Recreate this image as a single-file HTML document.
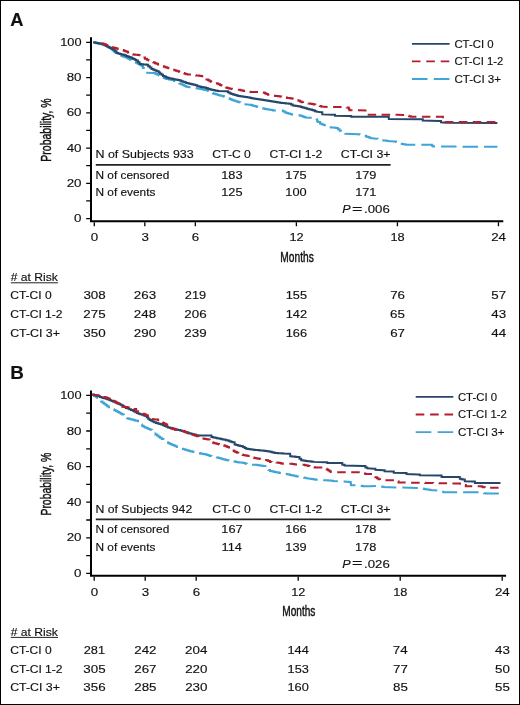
<!DOCTYPE html>
<html><head><meta charset="utf-8"><style>
html,body{margin:0;padding:0;background:#fff;}
svg{display:block;will-change:transform;}
text{font-family:"Liberation Sans",sans-serif;fill:#111;stroke:#111;stroke-width:0.15px;}
</style></head><body>
<svg width="520" height="705" viewBox="0 0 520 705">
<rect x="0.5" y="0.5" width="519" height="704" fill="#fff" stroke="#000" stroke-width="1"/>
<text x="10.34" y="25.60" font-size="18" textLength="13.24" lengthAdjust="spacingAndGlyphs" font-weight="bold">A</text>
<path d="M91 37.20V222.30M90 221.30H503.30" stroke="#000" stroke-width="2" fill="none"/>
<path d="M86.2 218.60H90M86.2 200.97H90M86.2 183.34H90M86.2 165.71H90M86.2 148.08H90M86.2 130.45H90M86.2 112.82H90M86.2 95.19H90M86.2 77.56H90M86.2 59.93H90M86.2 42.30H90M94.30 222.30V226.30M144.82 222.30V226.30M195.34 222.30V226.30M296.38 222.30V226.30M397.42 222.30V226.30M498.46 222.30V226.30" stroke="#000" stroke-width="1.3" fill="none"/>
<text x="74.10" y="222.20" font-size="11.5" textLength="7.42" lengthAdjust="spacingAndGlyphs">0</text>
<text x="66.69" y="186.94" font-size="11.5" textLength="14.84" lengthAdjust="spacingAndGlyphs">20</text>
<text x="66.69" y="151.68" font-size="11.5" textLength="14.84" lengthAdjust="spacingAndGlyphs">40</text>
<text x="66.69" y="116.42" font-size="11.5" textLength="14.84" lengthAdjust="spacingAndGlyphs">60</text>
<text x="66.69" y="81.16" font-size="11.5" textLength="14.84" lengthAdjust="spacingAndGlyphs">80</text>
<text x="60.21" y="45.90" font-size="11.5" textLength="21.30" lengthAdjust="spacingAndGlyphs">100</text>
<text x="90.89" y="241.40" font-size="11.5" textLength="7.42" lengthAdjust="spacingAndGlyphs">0</text>
<text x="141.45" y="241.40" font-size="11.5" textLength="7.42" lengthAdjust="spacingAndGlyphs">3</text>
<text x="191.88" y="241.40" font-size="11.5" textLength="7.42" lengthAdjust="spacingAndGlyphs">6</text>
<text x="289.42" y="241.40" font-size="11.5" textLength="14.20" lengthAdjust="spacingAndGlyphs">12</text>
<text x="390.41" y="241.40" font-size="11.5" textLength="14.20" lengthAdjust="spacingAndGlyphs">18</text>
<text x="491.20" y="241.40" font-size="11.5" textLength="14.84" lengthAdjust="spacingAndGlyphs">24</text>
<text x="280.36" y="261.90" font-size="15" textLength="33.41" lengthAdjust="spacingAndGlyphs" style="stroke-width:0.45px">Months</text>
<g transform="translate(50.75,160.80) rotate(-90)"><text x="-0.86" y="0" font-size="15" style="stroke-width:0.45px" textLength="63.33" lengthAdjust="spacingAndGlyphs">Probability, %</text></g>
<path d="M93.20 42.60H94.71V42.93H96.23V43.26H97.74V43.59H99.26V43.91H100.77V44.24H102.29V44.57H103.80V44.90H105.25V45.62H106.70V46.35H108.15V47.07H109.60V47.80H111.13V49.13H112.67V50.47H114.20V51.80H115.65V52.67H117.10V53.55H118.55V54.42H120.00V55.30H121.45V55.88H122.90V56.45H124.35V57.02H125.80V57.60H127.22V58.33H128.65V59.05H130.07V59.77H131.50V60.50H132.95V61.23H134.40V61.95H135.85V62.67H137.30V63.40H138.87V64.37H140.43V65.33H142.00V66.30H143.00V68.00H143.80V69.53H144.60V71.07H145.40V72.60L153.80 73.00H155.55V73.90H157.30V74.80H158.92V75.60H160.54V76.40H162.16V77.20H163.78V78.00H165.40V78.80H167.12V79.10H168.85V79.40H170.58V79.70H172.30V80.00H174.03V80.88H175.75V81.75H177.47V82.62H179.20V83.50H180.95V84.30H182.70V85.10H184.45V85.90H186.20V86.70H187.80V86.96H189.40V87.22H191.00V87.48H192.60V87.74H194.20V88.00L197.70 88.50H199.17V88.78H200.63V89.07H202.10V89.35H203.57V89.63H205.03V89.92H206.50V90.20H208.07V91.10H209.63V92.00H211.20V92.90H212.90V93.43H214.60V93.95H216.30V94.47H218.00V95.00H219.57V95.40H221.13V95.80H222.70V96.20H224.15V96.78H225.60V97.35H227.05V97.92H228.50V98.50H229.93V99.08H231.35V99.65H232.77V100.22H234.20V100.80H235.73V101.27H237.27V101.73H238.80V102.20H240.37V102.87H241.93V103.53H243.50V104.20L250.00 104.80H251.45V105.22H252.90V105.65H254.35V106.08H255.80V106.50H257.23V106.95H258.65V107.40H260.07V107.85H261.50V108.30H263.16V108.60H264.81V108.90H266.47V109.20H268.13V109.50H269.79V109.80H271.44V110.10H273.10V110.40L281.20 110.40H282.90V111.35H284.60V112.30H286.33V112.88H288.05V113.45H289.77V114.02H291.50V114.60H293.25V114.75H295.00V114.90H296.75V115.05H298.50V115.20H300.23V115.78H301.95V116.35H303.67V116.92H305.40V117.50L310.80 117.80H312.23V118.15H313.65V118.50H315.07V118.85H316.50V119.20H317.10V120.65H317.70V122.10H320.00V123.60H321.53V124.13H323.07V124.67H324.60V125.20H326.13V125.90H327.67V126.60H329.20V127.30H330.95V127.45H332.70V127.60H334.45V127.75H336.20V127.90H337.90V129.35H339.60V130.80H341.05V131.53H342.50V132.25H343.95V132.97H345.40V133.70L358.00 134.20H359.65V134.60H361.30V135.00H362.95V135.40H364.60V135.80H366.05V136.38H367.50V136.95H368.95V137.53H370.40V138.10L376.20 138.70H377.62V139.07H379.05V139.45H380.47V139.82H381.90V140.20H383.35V140.40H384.80V140.60H386.25V140.80H387.70V141.00L394.60 141.50H396.05V142.07H397.50V142.65H398.95V143.23H400.40V143.80H401.85V144.05H403.30V144.30H404.75V144.55H406.20V144.80L430.60 144.80H431.90V145.65H433.20V146.50L497.40 146.80" stroke="#3ea5d6" stroke-width="2" fill="none" stroke-linejoin="miter" stroke-dasharray="15.5 6" stroke-dashoffset="3"/>
<path d="M93.20 42.30H94.86V42.60H96.52V42.90H98.18V43.20H99.84V43.50H101.50V43.80H102.95V44.52H104.40V45.25H105.85V45.98H107.30V46.70H108.72V47.40H110.15V48.10H111.58V48.80H113.00V49.50H114.75V51.25H116.50V53.00H118.12V53.46H119.74V53.92H121.36V54.38H122.98V54.84H124.60V55.30H126.05V55.88H127.50V56.45H128.95V57.02H130.40V57.60H131.85V58.33H133.30V59.05H134.75V59.77H136.20V60.50H137.90V62.25H139.60V64.00H141.32V64.20H143.05V64.40H144.78V64.60H146.50V64.80H148.17V66.20H149.83V67.60H151.50V69.00H152.95V69.58H154.40V70.15H155.85V70.72H157.30V71.30H158.73V72.47H160.15V73.65H161.57V74.83H163.00V76.00H164.45V76.58H165.90V77.15H167.35V77.72H168.80V78.30H170.33V78.58H171.87V78.87H173.40V79.15H174.93V79.43H176.47V79.72H178.00V80.00H179.64V80.58H181.28V81.16H182.92V81.74H184.56V82.32H186.20V82.90H187.73V83.28H189.27V83.67H190.80V84.05H192.33V84.43H193.87V84.82H195.40V85.20H197.30V86.30H199.03V86.60H200.75V86.90H202.47V87.20H204.20V87.50H205.95V88.08H207.70V88.65H209.45V89.22H211.20V89.80H212.90V90.10H214.60V90.40H216.30V90.70H218.00V91.00L226.20 91.30H227.90V92.30H229.60V93.30H231.32V93.88H233.05V94.45H234.78V95.02H236.50V95.60H238.25V95.88H240.00V96.15H241.75V96.42H243.50V96.70H245.22V97.00H246.95V97.30H248.68V97.60H250.40V97.90H251.80V98.17H253.20V98.43H254.60V98.70H256.32V98.97H258.05V99.25H259.77V99.53H261.50V99.80H263.05V100.05H264.60V100.30H266.15V100.55H267.70V100.80H269.25V101.05H270.80V101.30H272.33V101.55H273.87V101.80H275.40V102.05H276.93V102.30H278.47V102.55H280.00V102.80H281.53V102.95H283.07V103.10H284.60V103.25H286.13V103.40H287.67V103.55H289.20V103.70H290.95V104.55H292.70V105.40H294.43V105.68H296.15V105.95H297.88V106.22H299.60V106.50H301.05V106.95H302.50V107.40H303.95V107.85H305.40V108.30H307.02V108.72H308.65V109.15H310.27V109.58H311.90V110.00H313.43V110.57H314.97V111.13H316.50V111.70L321.20 112.30H322.30V114.40L332.70 114.80H335.00V115.80L348.80 116.00H351.20V116.70L387.70 116.70H388.80V119.00L421.90 119.20H422.80V120.60L439.20 120.90H441.00V122.30L446.10 122.80L497.40 122.90" stroke="#27476a" stroke-width="2" fill="none" stroke-linejoin="miter"/>
<path d="M96.70 42.85H98.20V43.09H99.70V43.33H101.20V43.56H102.70V43.80H104.23V44.37H105.77V44.93H107.30V45.50H108.83V46.07H110.37V46.63H111.90V47.20H113.35V47.65H114.80V48.10H116.25V48.55H117.70V49.00H119.23V49.37H120.77V49.73H122.30V50.10H123.72V50.67H125.15V51.25H126.58V51.83H128.00V52.40H129.75V53.30H131.50V54.20H133.12V54.42H134.74V54.64H136.36V54.86H137.98V55.08H139.60V55.30H141.30V56.45H143.00V57.60H144.95V58.70H146.90V59.80H148.52V60.50H150.14V61.20H151.76V61.90H153.38V62.60H155.00V63.30H156.49V63.87H157.97V64.44H159.46V65.01H160.94V65.59H162.43V66.16H163.91V66.73H165.40V67.30H166.89V67.80H168.37V68.30H169.86V68.80H171.34V69.30H172.83V69.80H174.31V70.30H175.80V70.80H177.53V71.37H179.27V71.93H181.00V72.50H182.73V73.07H184.47V73.63H186.20V74.20H187.84V74.40H189.49V74.60H191.13V74.80H192.77V75.00H194.41V75.20H196.06V75.40H197.70V75.60H199.10V75.83H200.50V76.07H201.90V76.30H203.43V77.33H204.97V78.37H206.50V79.40H208.07V80.30H209.63V81.20H211.20V82.10H212.62V82.45H214.05V82.80H215.47V83.15H216.90V83.50H218.43V84.27H219.97V85.03H221.50V85.80H222.95V86.38H224.40V86.95H225.85V87.52H227.30V88.10H228.83V88.47H230.37V88.83H231.90V89.20L238.80 89.80H240.37V90.20H241.93V90.60H243.50V91.00H245.22V91.28H246.95V91.55H248.68V91.82H250.40V92.10L258.10 92.10H259.53V92.25H260.95V92.40H262.38V92.55H263.80V92.70H265.17V93.40H266.53V94.10H267.90V94.80H269.40V95.02H270.90V95.24H272.40V95.46H273.90V95.68H275.40V95.90H276.85V96.10H278.30V96.30H279.75V96.50H281.20V96.70H282.62V97.00H284.05V97.30H285.47V97.60H286.90V97.90H288.35V98.10H289.80V98.30H291.25V98.50H292.70V98.70H294.15V99.22H295.60V99.75H297.05V100.28H298.50V100.80H300.03V101.57H301.57V102.33H303.10V103.10H304.88V103.25H306.65V103.40H308.43V103.55H310.20V103.70H311.93V104.07H313.67V104.43H315.40V104.80H316.85V105.22H318.30V105.65H319.75V106.08H321.20V106.50L328.10 107.10L341.90 107.10H343.50V107.25H345.10V107.40H346.70V107.55H348.30V107.70H348.85V108.95H349.40V110.20L367.50 110.40H367.90V111.87H368.30V113.33H368.70V114.80L396.90 114.80L403.80 115.00H405.55V115.42H407.30V115.85H409.05V116.28H410.80V116.70L442.90 116.80L443.10 122.10L497.40 122.10" stroke="#b41f30" stroke-width="2" fill="none" stroke-linejoin="miter" stroke-dasharray="8.5 5.5" stroke-dashoffset="8.5"/>
<path d="M411.9 43.80H449.6" stroke="#27476a" stroke-width="1.8"/>
<text x="454.42" y="47.65" font-size="11.5" textLength="39.12" lengthAdjust="spacingAndGlyphs">CT-CI 0</text>
<path d="M411.9 61.40H449.6" stroke="#b41f30" stroke-width="1.8" stroke-dasharray="8.6 5.8"/>
<text x="454.42" y="65.25" font-size="11.5" textLength="48.94" lengthAdjust="spacingAndGlyphs">CT-CI 1-2</text>
<path d="M411.9 79.00H449.6" stroke="#3ea5d6" stroke-width="1.8" stroke-dasharray="15.6 6.3"/>
<text x="454.41" y="82.85" font-size="11.5" textLength="46.66" lengthAdjust="spacingAndGlyphs">CT-CI 3+</text>
<text x="95.48" y="158.20" font-size="11.5" textLength="98.17" lengthAdjust="spacingAndGlyphs">N of Subjects 933</text>
<text x="212.38" y="158.20" font-size="11.5" textLength="38.49" lengthAdjust="spacingAndGlyphs">CT-C 0</text>
<text x="269.58" y="158.20" font-size="11.5" textLength="52.63" lengthAdjust="spacingAndGlyphs">CT-CI 1-2</text>
<text x="340.77" y="158.20" font-size="11.5" textLength="49.73" lengthAdjust="spacingAndGlyphs">CT-CI 3+</text>
<path d="M95.8 164.85H390.6" stroke="#222" stroke-width="1.8"/>
<text x="95.53" y="178.60" font-size="11.5" textLength="73.74" lengthAdjust="spacingAndGlyphs">N of censored</text>
<text x="95.53" y="196.20" font-size="11.5" textLength="59.91" lengthAdjust="spacingAndGlyphs">N of events</text>
<text x="221.25" y="178.60" font-size="11.5" textLength="21.30" lengthAdjust="spacingAndGlyphs">183</text>
<text x="221.24" y="196.20" font-size="11.5" textLength="21.30" lengthAdjust="spacingAndGlyphs">125</text>
<text x="285.34" y="178.60" font-size="11.5" textLength="21.30" lengthAdjust="spacingAndGlyphs">175</text>
<text x="285.32" y="196.20" font-size="11.5" textLength="21.30" lengthAdjust="spacingAndGlyphs">100</text>
<text x="355.17" y="178.60" font-size="11.5" textLength="21.30" lengthAdjust="spacingAndGlyphs">179</text>
<text x="355.18" y="196.20" font-size="11.5" textLength="21.30" lengthAdjust="spacingAndGlyphs">171</text>
<text x="342.21" y="213.30" font-size="11.5" textLength="8.36" lengthAdjust="spacingAndGlyphs" font-style="italic">P</text>
<text x="352.02" y="212.70" font-size="11.5" textLength="10.45" lengthAdjust="spacingAndGlyphs">=</text>
<text x="364.10" y="213.30" font-size="11.5" textLength="25.69" lengthAdjust="spacingAndGlyphs">.006</text>
<text x="10.75" y="281.20" font-size="11.5" textLength="47.14" lengthAdjust="spacingAndGlyphs"># at Risk</text>
<path d="M10.8 282.80H58" stroke="#222" stroke-width="1"/>
<text x="10.19" y="299.40" font-size="11.5" textLength="41.48" lengthAdjust="spacingAndGlyphs">CT-CI 0</text>
<text x="83.41" y="299.40" font-size="11.5" textLength="22.26" lengthAdjust="spacingAndGlyphs">308</text>
<text x="133.85" y="299.40" font-size="11.5" textLength="22.26" lengthAdjust="spacingAndGlyphs">263</text>
<text x="184.87" y="299.40" font-size="11.5" textLength="21.30" lengthAdjust="spacingAndGlyphs">219</text>
<text x="285.72" y="299.40" font-size="11.5" textLength="21.30" lengthAdjust="spacingAndGlyphs">155</text>
<text x="390.16" y="299.40" font-size="11.5" textLength="14.84" lengthAdjust="spacingAndGlyphs">76</text>
<text x="491.31" y="299.40" font-size="11.5" textLength="14.84" lengthAdjust="spacingAndGlyphs">57</text>
<text x="10.18" y="318.00" font-size="11.5" textLength="52.42" lengthAdjust="spacingAndGlyphs">CT-CI 1-2</text>
<text x="83.32" y="318.00" font-size="11.5" textLength="22.26" lengthAdjust="spacingAndGlyphs">275</text>
<text x="133.85" y="318.00" font-size="11.5" textLength="22.26" lengthAdjust="spacingAndGlyphs">248</text>
<text x="184.37" y="318.00" font-size="11.5" textLength="22.26" lengthAdjust="spacingAndGlyphs">206</text>
<text x="285.77" y="318.00" font-size="11.5" textLength="21.30" lengthAdjust="spacingAndGlyphs">142</text>
<text x="390.14" y="318.00" font-size="11.5" textLength="14.84" lengthAdjust="spacingAndGlyphs">65</text>
<text x="491.38" y="318.00" font-size="11.5" textLength="14.84" lengthAdjust="spacingAndGlyphs">43</text>
<text x="10.17" y="336.60" font-size="11.5" textLength="49.83" lengthAdjust="spacingAndGlyphs">CT-CI 3+</text>
<text x="83.38" y="336.60" font-size="11.5" textLength="22.26" lengthAdjust="spacingAndGlyphs">350</text>
<text x="133.82" y="336.60" font-size="11.5" textLength="22.26" lengthAdjust="spacingAndGlyphs">290</text>
<text x="184.39" y="336.60" font-size="11.5" textLength="22.26" lengthAdjust="spacingAndGlyphs">239</text>
<text x="285.73" y="336.60" font-size="11.5" textLength="21.30" lengthAdjust="spacingAndGlyphs">166</text>
<text x="390.20" y="336.60" font-size="11.5" textLength="14.84" lengthAdjust="spacingAndGlyphs">67</text>
<text x="491.28" y="336.60" font-size="11.5" textLength="14.84" lengthAdjust="spacingAndGlyphs">44</text>
<text x="10.24" y="379.30" font-size="18" textLength="13.61" lengthAdjust="spacingAndGlyphs" font-weight="bold">B</text>
<path d="M91 390.60V576.80M90 575.80H506.10" stroke="#000" stroke-width="2" fill="none"/>
<path d="M86.2 573.40H90M86.2 555.60H90M86.2 537.80H90M86.2 520.00H90M86.2 502.20H90M86.2 484.40H90M86.2 466.60H90M86.2 448.80H90M86.2 431.00H90M86.2 413.20H90M86.2 395.40H90M94.20 576.80V580.80M145.20 576.80V580.80M196.20 576.80V580.80M298.20 576.80V580.80M400.20 576.80V580.80M502.20 576.80V580.80" stroke="#000" stroke-width="1.3" fill="none"/>
<text x="74.10" y="577.00" font-size="11.5" textLength="7.42" lengthAdjust="spacingAndGlyphs">0</text>
<text x="66.69" y="541.40" font-size="11.5" textLength="14.84" lengthAdjust="spacingAndGlyphs">20</text>
<text x="66.69" y="505.80" font-size="11.5" textLength="14.84" lengthAdjust="spacingAndGlyphs">40</text>
<text x="66.69" y="470.20" font-size="11.5" textLength="14.84" lengthAdjust="spacingAndGlyphs">60</text>
<text x="66.69" y="434.60" font-size="11.5" textLength="14.84" lengthAdjust="spacingAndGlyphs">80</text>
<text x="60.21" y="399.00" font-size="11.5" textLength="21.30" lengthAdjust="spacingAndGlyphs">100</text>
<text x="90.79" y="596.00" font-size="11.5" textLength="7.42" lengthAdjust="spacingAndGlyphs">0</text>
<text x="141.83" y="596.00" font-size="11.5" textLength="7.42" lengthAdjust="spacingAndGlyphs">3</text>
<text x="192.74" y="596.00" font-size="11.5" textLength="7.42" lengthAdjust="spacingAndGlyphs">6</text>
<text x="291.24" y="596.00" font-size="11.5" textLength="14.20" lengthAdjust="spacingAndGlyphs">12</text>
<text x="393.19" y="596.00" font-size="11.5" textLength="14.20" lengthAdjust="spacingAndGlyphs">18</text>
<text x="494.94" y="596.00" font-size="11.5" textLength="14.84" lengthAdjust="spacingAndGlyphs">24</text>
<text x="282.27" y="616.30" font-size="15" textLength="33.09" lengthAdjust="spacingAndGlyphs" style="stroke-width:0.45px">Months</text>
<g transform="translate(50.60,514.70) rotate(-90)"><text x="-0.85" y="0" font-size="15" style="stroke-width:0.45px" textLength="62.93" lengthAdjust="spacingAndGlyphs">Probability, %</text></g>
<path d="M92.30 395.00H93.90V395.93H95.50V396.85H97.10V397.77H98.70V398.70H99.85V400.10H101.00V401.50H102.53V402.67H104.07V403.83H105.60V405.00H107.13V406.17H108.67V407.33H110.20V408.50H112.20V409.35H114.20V410.20H115.83V411.07H117.47V411.93H119.10V412.80H120.73V413.67H122.37V414.53H124.00V415.40H125.50V416.85H127.00V418.30H128.57V418.73H130.15V419.15H131.72V419.57H133.30V420.00H134.88V420.43H136.45V420.85H138.03V421.27H139.60V421.70H140.40V423.07H141.20V424.43H142.00V425.80H143.50V426.65H145.00V427.50H146.72V428.23H148.45V428.95H150.18V429.67H151.90V430.40H153.65V432.40H155.40V434.40H156.93V435.53H158.47V436.67H160.00V437.80H161.75V439.10H163.50V440.40H165.03V441.27H166.57V442.13H168.10V443.00H169.53V443.65H170.95V444.30H172.38V444.95H173.80V445.60H175.35V446.28H176.90V446.95H178.45V447.62H180.00V448.30H181.67V448.78H183.33V449.27H185.00V449.75H186.67V450.23H188.33V450.72H190.00V451.20H191.67V451.58H193.33V451.97H195.00V452.35H196.67V452.73H198.33V453.12H200.00V453.50H201.45V453.73H202.90V453.95H204.35V454.17H205.80V454.40H207.23V454.97H208.65V455.55H210.07V456.12H211.50V456.70H213.25V457.00H215.00V457.30H216.75V457.60H218.50V457.90H219.93V458.32H221.35V458.75H222.77V459.18H224.20V459.60H225.65V459.90H227.10V460.20H228.55V460.50H230.00V460.80H231.45V461.07H232.90V461.35H234.35V461.62H235.80V461.90H237.40V462.14H239.00V462.38H240.60V462.62H242.20V462.86H243.80V463.10H245.37V463.67H246.93V464.23H248.50V464.80L255.00 464.80H256.62V465.04H258.24V465.28H259.86V465.52H261.48V465.76H263.10V466.00H265.40V468.30H266.93V469.17H268.47V470.03H270.00V470.90H271.45V471.25H272.90V471.60H274.35V471.95H275.80V472.30H277.52V472.60H279.25V472.90H280.98V473.20H282.70V473.50H284.15V473.77H285.60V474.05H287.05V474.33H288.50V474.60H289.93V474.90H291.35V475.20H292.77V475.50H294.20V475.80H295.73V476.17H297.27V476.53H298.80V476.90H300.55V477.20H302.30V477.50H304.05V477.80H305.80V478.10L310.00 478.70H311.53V478.95H313.07V479.20H314.60V479.45H316.13V479.70H317.67V479.95H319.20V480.20L326.20 480.20H327.93V480.40H329.65V480.60H331.38V480.80H333.10V481.00L340.00 481.30H341.73V481.43H343.47V481.57H345.20V481.70H346.93V481.83H348.67V481.97H350.40V482.10H350.70V483.65H351.00V485.20L357.30 485.20H358.75V485.45H360.20V485.70H361.65V485.95H363.10V486.20L370.00 486.20L377.70 486.00H379.15V486.27H380.60V486.55H382.05V486.83H383.50V487.10L398.50 487.50L419.20 488.00H420.70V488.30H422.20V488.60H423.70V488.90H425.20V489.20H426.93V489.50H428.67V489.80H430.40V490.10L439.00 490.60H440.47V491.13H441.93V491.67H443.40V492.20L480.60 492.30H482.30V492.73H484.00V493.17H485.70V493.60L500.50 493.60" stroke="#3ea5d6" stroke-width="2" fill="none" stroke-linejoin="miter" stroke-dasharray="15.5 6" stroke-dashoffset="7"/>
<path d="M92.30 394.60H93.83V395.00H95.37V395.40H96.90V395.80H98.43V396.37H99.97V396.93H101.50V397.50H102.95V397.93H104.40V398.35H105.85V398.77H107.30V399.20H108.72V399.77H110.15V400.35H111.58V400.93H113.00V401.50H114.75V402.23H116.50V402.95H118.25V403.67H120.00V404.40H121.45V405.27H122.90V406.15H124.35V407.02H125.80V407.90H127.52V408.62H129.25V409.35H130.97V410.07H132.70V410.80H134.15V411.52H135.60V412.25H137.05V412.98H138.50V413.70H140.22V414.27H141.95V414.85H143.68V415.43H145.40V416.00H146.80V417.33H148.20V418.67H149.60V420.00H151.13V420.77H152.67V421.53H154.20V422.30H155.95V422.88H157.70V423.45H159.45V424.03H161.20V424.60H162.92V425.33H164.65V426.05H166.38V426.77H168.10V427.50H169.82V427.93H171.55V428.35H173.28V428.77H175.00V429.20H176.72V429.65H178.45V430.10H180.18V430.55H181.90V431.00H183.62V431.57H185.35V432.15H187.08V432.73H188.80V433.30H190.55V433.73H192.30V434.15H194.05V434.57H195.80V435.00L200.00 435.40L209.20 435.40H211.50V437.10H213.25V437.48H215.00V437.85H216.75V438.23H218.50V438.60H220.03V438.87H221.57V439.13H223.10V439.40H224.63V439.80H226.17V440.20H227.70V440.60H229.23V441.17H230.77V441.73H232.30V442.30H234.60V444.60H236.32V445.03H238.05V445.45H239.78V445.88H241.50V446.30H243.07V447.10H244.63V447.90H246.20V448.70H247.92V448.98H249.65V449.25H251.38V449.52H253.10V449.80H254.86V449.96H256.62V450.12H258.38V450.28H260.14V450.44H261.90V450.60H263.62V450.83H265.35V451.05H267.07V451.27H268.80V451.50H270.25V451.85H271.70V452.20H273.15V452.55H274.60V452.90H276.13V453.02H277.67V453.13H279.20V453.25H280.73V453.37H282.27V453.48H283.80V453.60L288.50 453.80H290.20V456.20H291.70V456.38H293.20V456.56H294.70V456.74H296.20V456.92H297.70V457.10H299.45V458.65H301.20V460.20H302.90V460.50H304.60V460.80H306.08V460.98H307.57V461.17H309.05V461.35H310.53V461.53H312.02V461.72H313.50V461.90L325.00 462.20H327.30V463.10L340.60 463.10H342.30V464.80H344.60V465.60L363.10 466.00H365.40V467.50H367.30V468.30L374.20 468.70H375.40V469.80L383.50 470.20H384.60V471.30L392.70 471.50H393.80V472.70L405.40 472.90H406.50V474.10L418.10 474.40H419.80V475.30L440.80 475.40H441.60V477.10L458.10 477.10H459.80V478.80H461.35V479.20H462.90V479.60H464.80V481.30L473.50 481.50H474.90V483.00L500.50 483.00" stroke="#27476a" stroke-width="2" fill="none" stroke-linejoin="miter"/>
<path d="M92.30 394.60L96.90 395.20H98.62V395.62H100.35V396.05H102.08V396.47H103.80V396.90H105.37V397.50H106.93V398.10H108.50V398.70H109.92V399.40H111.35V400.10H112.78V400.80H114.20V401.50H115.82V402.54H117.44V403.58H119.06V404.62H120.68V405.66H122.30V406.70H123.83V406.90H125.37V407.10H126.90V407.30H128.62V407.73H130.35V408.15H132.08V408.57H133.80V409.00H136.20V411.30H137.90V411.90H139.60V412.50H141.30V413.10H143.00V413.70H144.57V414.47H146.13V415.23H147.70V416.00H149.25V417.40H150.80V418.80L156.50 419.40H158.07V420.37H159.63V421.33H161.20V422.30H162.73V423.07H164.27V423.83H165.80V424.60H167.23V425.62H168.65V426.65H170.07V427.68H171.50V428.70H173.25V429.25H175.00V429.80H176.62V430.10H178.24V430.40H179.86V430.70H181.48V431.00H183.10V431.30H184.80V431.90H186.50V432.50H188.07V433.13H189.63V433.77H191.20V434.40H192.62V434.85H194.05V435.30H195.47V435.75H196.90V436.20H198.70V437.00H200.50V437.80H202.30V438.60H203.75V438.80H205.20V439.00H206.65V439.20H208.10V439.40H209.80V440.85H211.50V442.30H212.95V442.73H214.40V443.15H215.85V443.57H217.30V444.00H219.03V444.45H220.75V444.90H222.47V445.35H224.20V445.80H225.73V446.37H227.27V446.93H228.80V447.50H230.55V448.95H232.30V450.40H233.83V451.17H235.37V451.93H236.90V452.70H238.35V453.27H239.80V453.85H241.25V454.43H242.70V455.00H244.15V455.23H245.60V455.45H247.05V455.67H248.50V455.90H249.93V456.40H251.35V456.90H252.77V457.40H254.20V457.90H255.63V458.17H257.07V458.43H258.50V458.70H260.10V459.00H261.70V459.30H263.30V459.60H264.90V459.90H266.50V460.20H268.25V461.05H270.00V461.90H271.62V462.08H273.24V462.26H274.86V462.44H276.48V462.62H278.10V462.80H279.63V463.10H281.17V463.40H282.70V463.70L290.80 463.70H292.33V463.97H293.87V464.23H295.40V464.50L303.50 464.80H305.03V465.20H306.57V465.60H308.10V466.00H309.73V466.38H311.35V466.75H312.98V467.12H314.60V467.50L321.50 467.50H323.23V468.13H324.97V468.77H326.70V469.40H328.07V470.30H329.43V471.20H330.80V472.10L359.60 472.30H361.05V472.73H362.50V473.15H363.95V473.57H365.40V474.00L371.90 474.10H373.65V475.70H375.40V477.30H376.93V478.27H378.47V479.23H380.00V480.20L395.00 480.20H396.75V481.35H398.50V482.50L420.40 482.80H421.99V482.83H423.58V482.87H425.17V482.90H426.76V482.93H428.34V482.97H429.93V483.00H431.52V483.03H433.11V483.07H434.70V483.10H436.29V483.13H437.88V483.17H439.47V483.20H441.06V483.23H442.64V483.27H444.23V483.30H445.82V483.33H447.41V483.37H449.00V483.40H450.59V483.43H452.18V483.47H453.77V483.50H455.36V483.53H456.94V483.57H458.53V483.60H460.12V483.63H461.71V483.67H463.30V483.70H464.55V484.95H465.80V486.20L480.20 486.20H481.80V486.73H483.40V487.27H485.00V487.80L500.50 487.80" stroke="#b41f30" stroke-width="2" fill="none" stroke-linejoin="miter" stroke-dasharray="8.5 5.5" stroke-dashoffset="1"/>
<path d="M415.7 396.90H453.3" stroke="#27476a" stroke-width="1.8"/>
<text x="457.92" y="400.75" font-size="11.5" textLength="39.12" lengthAdjust="spacingAndGlyphs">CT-CI 0</text>
<path d="M415.7 414.50H453.3" stroke="#b41f30" stroke-width="1.8" stroke-dasharray="8.6 5.8"/>
<text x="457.92" y="418.35" font-size="11.5" textLength="48.94" lengthAdjust="spacingAndGlyphs">CT-CI 1-2</text>
<path d="M415.7 432.10H453.3" stroke="#3ea5d6" stroke-width="1.8" stroke-dasharray="15.6 6.3"/>
<text x="457.91" y="435.95" font-size="11.5" textLength="46.66" lengthAdjust="spacingAndGlyphs">CT-CI 3+</text>
<text x="95.50" y="512.80" font-size="11.5" textLength="96.72" lengthAdjust="spacingAndGlyphs">N of Subjects 942</text>
<text x="212.38" y="512.80" font-size="11.5" textLength="38.49" lengthAdjust="spacingAndGlyphs">CT-C 0</text>
<text x="269.58" y="512.80" font-size="11.5" textLength="52.63" lengthAdjust="spacingAndGlyphs">CT-CI 1-2</text>
<text x="340.77" y="512.80" font-size="11.5" textLength="49.73" lengthAdjust="spacingAndGlyphs">CT-CI 3+</text>
<path d="M95.8 519.45H390.6" stroke="#222" stroke-width="1.8"/>
<text x="95.53" y="533.20" font-size="11.5" textLength="73.74" lengthAdjust="spacingAndGlyphs">N of censored</text>
<text x="95.53" y="550.80" font-size="11.5" textLength="59.91" lengthAdjust="spacingAndGlyphs">N of events</text>
<text x="221.29" y="533.20" font-size="11.5" textLength="21.30" lengthAdjust="spacingAndGlyphs">167</text>
<text x="221.63" y="550.80" font-size="11.5" textLength="20.35" lengthAdjust="spacingAndGlyphs">114</text>
<text x="285.35" y="533.20" font-size="11.5" textLength="21.30" lengthAdjust="spacingAndGlyphs">166</text>
<text x="285.37" y="550.80" font-size="11.5" textLength="21.30" lengthAdjust="spacingAndGlyphs">139</text>
<text x="355.14" y="533.20" font-size="11.5" textLength="21.30" lengthAdjust="spacingAndGlyphs">178</text>
<text x="355.14" y="550.80" font-size="11.5" textLength="21.30" lengthAdjust="spacingAndGlyphs">178</text>
<text x="342.21" y="567.90" font-size="11.5" textLength="8.36" lengthAdjust="spacingAndGlyphs" font-style="italic">P</text>
<text x="352.02" y="567.30" font-size="11.5" textLength="10.45" lengthAdjust="spacingAndGlyphs">=</text>
<text x="364.10" y="567.90" font-size="11.5" textLength="25.69" lengthAdjust="spacingAndGlyphs">.026</text>
<text x="10.75" y="635.80" font-size="11.5" textLength="47.14" lengthAdjust="spacingAndGlyphs"># at Risk</text>
<path d="M10.8 637.40H58" stroke="#222" stroke-width="1"/>
<text x="10.19" y="654.00" font-size="11.5" textLength="41.48" lengthAdjust="spacingAndGlyphs">CT-CI 0</text>
<text x="83.75" y="654.00" font-size="11.5" textLength="21.30" lengthAdjust="spacingAndGlyphs">281</text>
<text x="134.27" y="654.00" font-size="11.5" textLength="22.26" lengthAdjust="spacingAndGlyphs">242</text>
<text x="185.13" y="654.00" font-size="11.5" textLength="22.26" lengthAdjust="spacingAndGlyphs">204</text>
<text x="287.45" y="654.00" font-size="11.5" textLength="21.30" lengthAdjust="spacingAndGlyphs">144</text>
<text x="392.84" y="654.00" font-size="11.5" textLength="14.84" lengthAdjust="spacingAndGlyphs">74</text>
<text x="495.12" y="654.00" font-size="11.5" textLength="14.84" lengthAdjust="spacingAndGlyphs">43</text>
<text x="10.18" y="672.60" font-size="11.5" textLength="52.42" lengthAdjust="spacingAndGlyphs">CT-CI 1-2</text>
<text x="83.30" y="672.60" font-size="11.5" textLength="22.26" lengthAdjust="spacingAndGlyphs">305</text>
<text x="134.27" y="672.60" font-size="11.5" textLength="22.26" lengthAdjust="spacingAndGlyphs">267</text>
<text x="185.20" y="672.60" font-size="11.5" textLength="22.26" lengthAdjust="spacingAndGlyphs">220</text>
<text x="287.55" y="672.60" font-size="11.5" textLength="21.30" lengthAdjust="spacingAndGlyphs">153</text>
<text x="392.98" y="672.60" font-size="11.5" textLength="14.84" lengthAdjust="spacingAndGlyphs">77</text>
<text x="494.98" y="672.60" font-size="11.5" textLength="14.84" lengthAdjust="spacingAndGlyphs">50</text>
<text x="10.17" y="691.20" font-size="11.5" textLength="49.83" lengthAdjust="spacingAndGlyphs">CT-CI 3+</text>
<text x="83.31" y="691.20" font-size="11.5" textLength="22.26" lengthAdjust="spacingAndGlyphs">356</text>
<text x="134.22" y="691.20" font-size="11.5" textLength="22.26" lengthAdjust="spacingAndGlyphs">285</text>
<text x="185.20" y="691.20" font-size="11.5" textLength="22.26" lengthAdjust="spacingAndGlyphs">230</text>
<text x="287.52" y="691.20" font-size="11.5" textLength="21.30" lengthAdjust="spacingAndGlyphs">160</text>
<text x="392.98" y="691.20" font-size="11.5" textLength="14.84" lengthAdjust="spacingAndGlyphs">85</text>
<text x="495.00" y="691.20" font-size="11.5" textLength="14.84" lengthAdjust="spacingAndGlyphs">55</text>
</svg></body></html>
